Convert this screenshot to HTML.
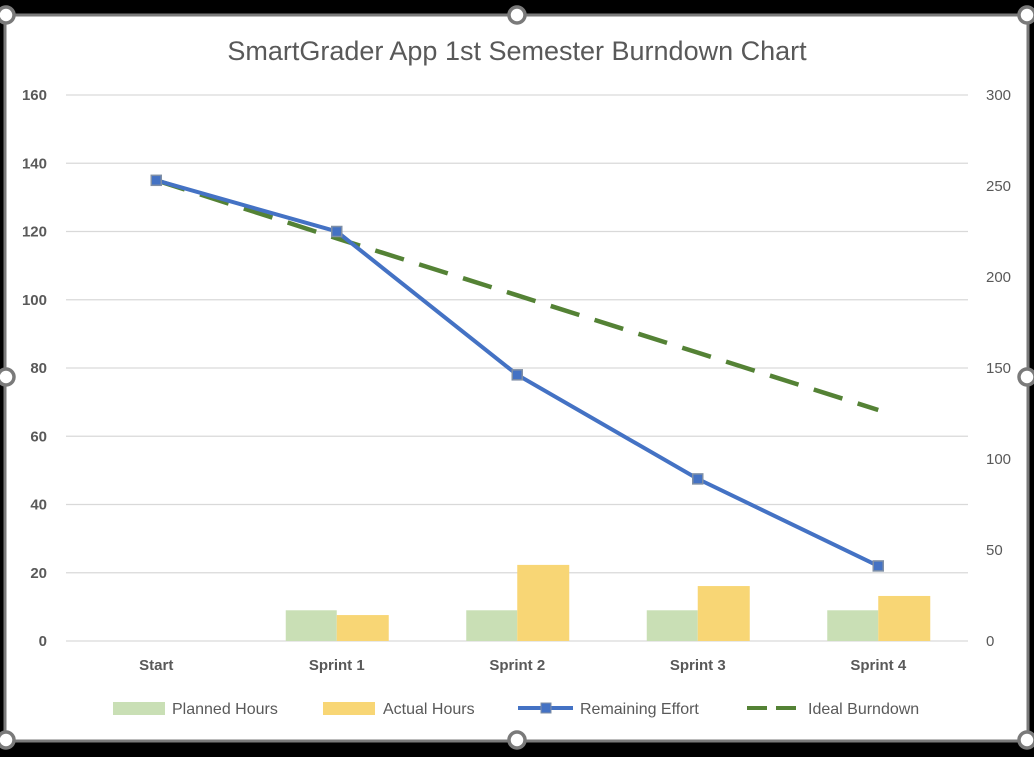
<!DOCTYPE html>
<html><head><meta charset="utf-8"><style>
body{margin:0;width:1034px;height:752px;background:#000;overflow:hidden;font-family:"Liberation Sans",sans-serif}
</style></head><body>
<svg width="1034" height="752" id="chart">
<rect x="5" y="15" width="1023" height="726" fill="#fff" stroke="#7a7a7a" stroke-width="3"/>
<text x="517" y="60" text-anchor="middle" font-size="27" fill="#595959">SmartGrader App 1st Semester Burndown Chart</text>
<g id="grid"></g><g id="bars"></g><g id="lines"></g><g id="labels"></g>
<g id="legend" font-size="16" fill="#595959">
<rect x="113" y="702" width="52" height="13" fill="#c9dfb5"/>
<text x="172" y="714">Planned Hours</text>
<rect x="323" y="702" width="52" height="13" fill="#f8d675"/>
<text x="383" y="714">Actual Hours</text>
<line x1="518" y1="708" x2="573" y2="708" stroke="#4472c4" stroke-width="4"/>
<rect x="541" y="703" width="10" height="10" fill="#4472c4" stroke="#7f8fa6"/>
<text x="580" y="714">Remaining Effort</text>
<line x1="747" y1="708" x2="802" y2="708" stroke="#548235" stroke-width="4" stroke-dasharray="20,9"/>
<text x="808" y="714">Ideal Burndown</text>
</g>
<g id="handles"></g>
</svg>
<script>
const categories=["Start","Sprint 1","Sprint 2","Sprint 3","Sprint 4"];
const planned=[null,9,9,9,9];
const actual=[null,7.6,22.3,16.1,13.2];
const remaining=[135,120,78,47.5,22];
const ideal=[135,118,101.3,84.5,67.7];
const leftTicks=[0,20,40,60,80,100,120,140,160];
const rightTicks=[0,50,100,150,200,250,300];
const NS="http://www.w3.org/2000/svg";
const y0=641,yTop=95,x0=66,step=180.5;
const yL=v=>y0-(v/160)*(y0-yTop);
const yR=v=>y0-(v/300)*(y0-yTop);
const xC=i=>x0+step*(i+0.5);
function mk(tag,attrs,parent){const e=document.createElementNS(NS,tag);for(const k in attrs)e.setAttribute(k,attrs[k]);document.getElementById(parent).appendChild(e);return e;}
leftTicks.forEach(t=>{
 const l=mk('line',{x1:x0,x2:968,y1:yL(t),y2:yL(t),stroke:'#d9d9d9','stroke-width':1.3},'grid');
 
 
 const tx=mk('text',{x:47,y:yL(t)+5,'text-anchor':'end','font-size':15,'font-weight':'bold',fill:'#595959'},'labels');
 tx.textContent=t;
 
 
});
rightTicks.forEach(t=>{
 const tx=mk('text',{x:986,y:yR(t)+5,'font-size':15,fill:'#595959'},'labels');
 tx.textContent=t;
 
 
});
categories.forEach((c,i)=>{
 const tx=mk('text',{x:xC(i),y:670,'text-anchor':'middle','font-size':15,'font-weight':'bold',fill:'#595959'},'labels');
 tx.textContent=c;
 
 
 if(planned[i]!=null){
  const b=mk('rect',{x:xC(i)-51,y:yL(planned[i]),width:51,height:y0-yL(planned[i]),fill:'#c9dfb5'},'bars');
  
  
 }
 if(actual[i]!=null){
  const b=mk('rect',{x:xC(i),y:yL(actual[i]),width:52,height:y0-yL(actual[i]),fill:'#f8d675'},'bars');
  
  
 }
});
const rp=remaining.map((v,i)=>xC(i)+','+yL(v)).join(' ');
const ip=ideal.map((v,i)=>xC(i)+','+yL(v)).join(' ');
const il=mk('polyline',{points:ip,fill:'none',stroke:'#548235','stroke-width':4.5,'stroke-dasharray':'30,16'},'lines');


const rl=mk('polyline',{points:rp,fill:'none',stroke:'#4472c4','stroke-width':4},'lines');


remaining.forEach((v,i)=>{
 const m=mk('rect',{x:xC(i)-5,y:yL(v)-5,width:10,height:10,fill:'#4472c4',stroke:'#7f8fa6','stroke-width':1.5},'lines');
 
 
});
[[6,15],[517,15],[1027,15],[6,377],[1027,377],[6,740],[517,740],[1027,740]].forEach(p=>{
 const c=mk('circle',{cx:p[0],cy:p[1],r:8,fill:'#fff',stroke:'#7a7a7a','stroke-width':3.5},'handles');
 
 
});
</script>
</body></html>
